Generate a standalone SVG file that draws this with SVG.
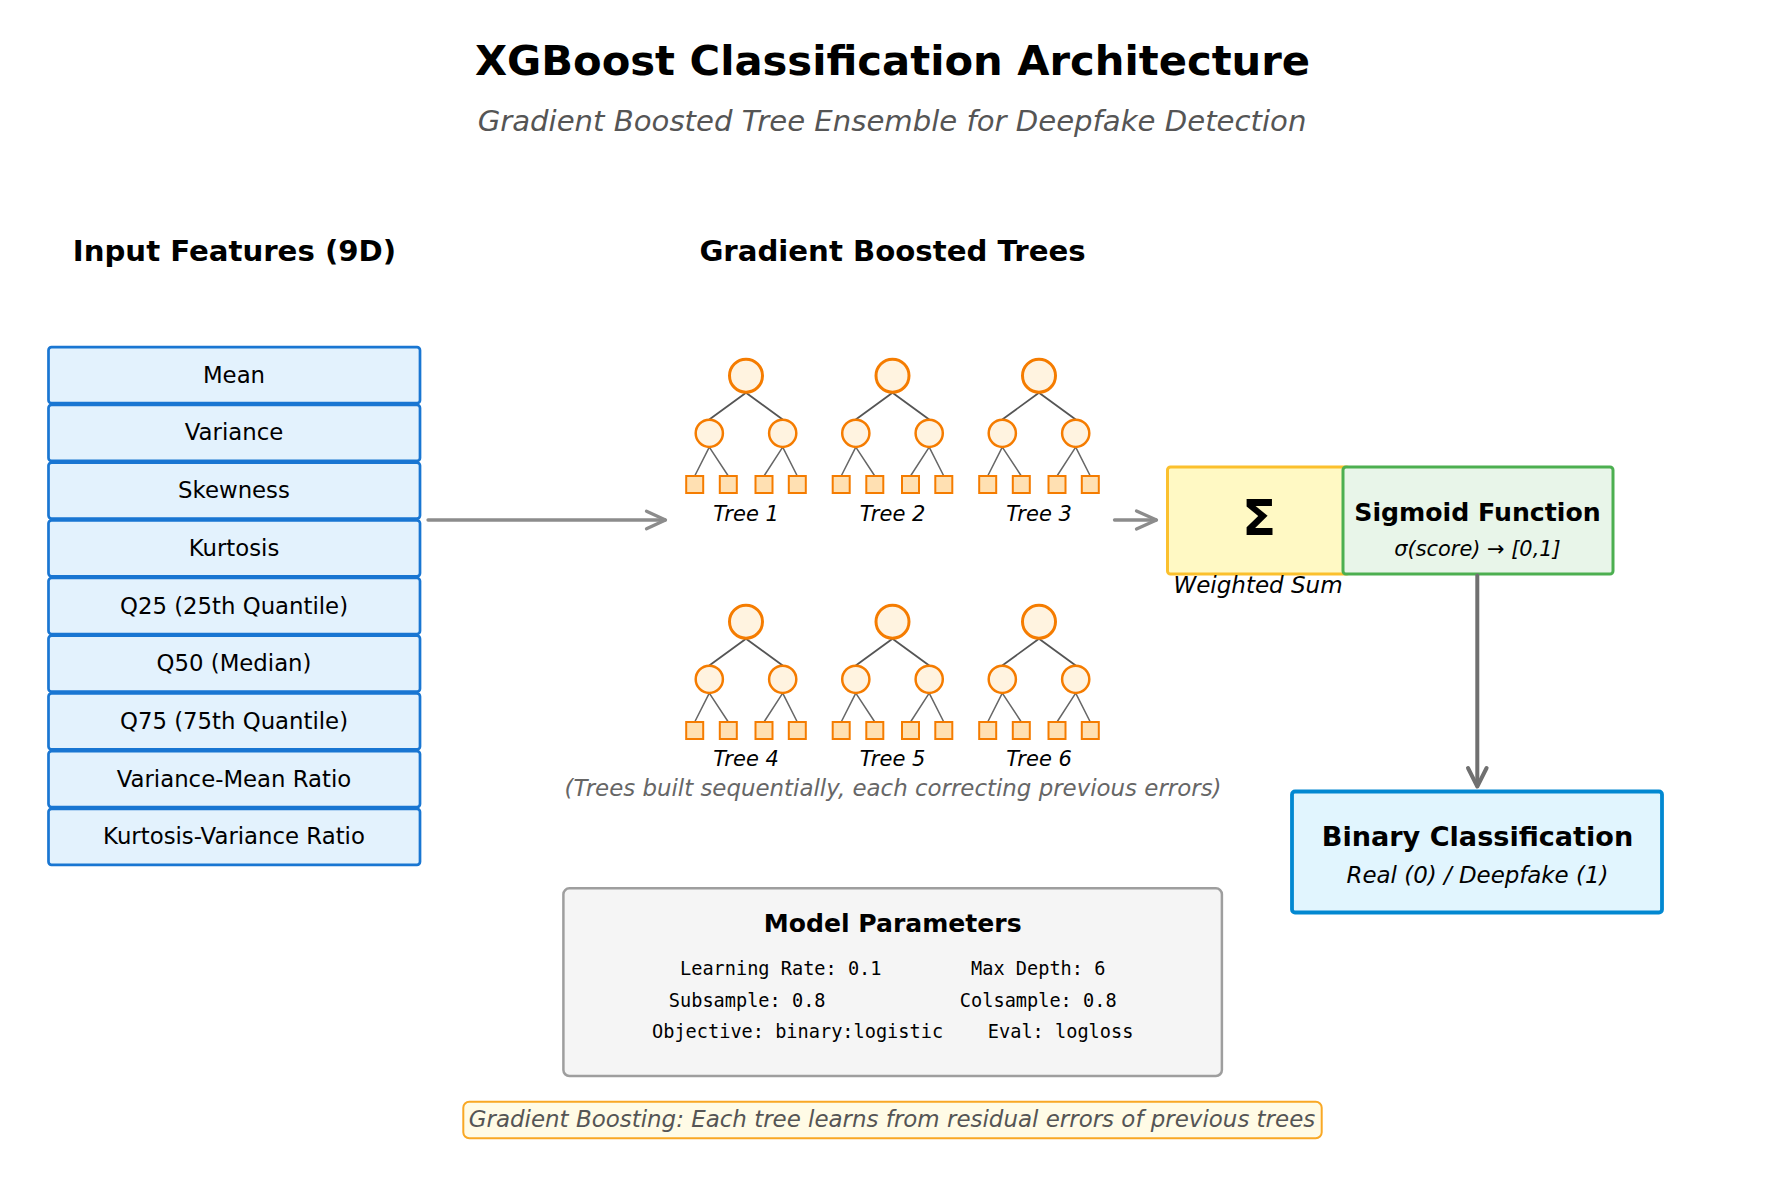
<svg xmlns="http://www.w3.org/2000/svg" xmlns:xlink="http://www.w3.org/1999/xlink" width="1785" height="1185" viewBox="0 0 1785 1185">
<style>
  text { font-family: "DejaVu Sans", "Liberation Sans", sans-serif; }
  .title { font-size: 41.7px; font-weight: bold; fill: #000; text-anchor: middle; }
  .subtitle { font-size: 29.15px; font-style: italic; fill: #555555; text-anchor: middle; }
  .section { font-size: 29.2px; font-weight: bold; fill: #000; text-anchor: middle; }
  .feat rect { fill: #E3F2FD; stroke: #1976D2; stroke-width: 2.7; }
  .feat text { font-size: 22.8px; fill: #000; text-anchor: middle; }
  .treelabel { font-size: 21px; font-style: italic; fill: #000; text-anchor: middle; }
  .note { font-size: 22.9px; font-style: italic; fill: #666666; text-anchor: middle; }
  .edge1 { stroke: #555555; stroke-width: 1.8; fill: none; }
  .edge2 { stroke: #666666; stroke-width: 1.5; fill: none; }
  .root { fill: #FFF3E0; stroke: #F57C00; stroke-width: 3; }
  .child { fill: #FFF3E0; stroke: #F57C00; stroke-width: 2.5; }
  .leaf { fill: #FFE0B2; stroke: #F57C00; stroke-width: 2; }
  .bold { font-weight: bold; fill: #000; text-anchor: middle; }
  .ital { font-style: italic; fill: #000; text-anchor: middle; }
  .mono { font-family: "DejaVu Sans Mono", "Liberation Mono", monospace; font-size: 18.6px; fill: #000; text-anchor: middle; white-space: pre; }
  .conn { fill: none; stroke-linecap: round; stroke-linejoin: round; }
</style>
<defs>
  <g id="tree">
    <path class="edge1" d="M0,17 L-36.7,43.8 M0,17 L36.7,43.8"/>
    <path class="edge2" d="M-36.7,71.4 L-51.3,100.3 M-36.7,71.4 L-17.7,100.3 M36.7,71.4 L18,100.3 M36.7,71.4 L51.3,100.3"/>
    <circle class="root" cx="0" cy="0" r="16.5"/>
    <circle class="child" cx="-36.7" cy="57.6" r="13.6"/>
    <circle class="child" cx="36.7" cy="57.6" r="13.6"/>
    <rect class="leaf" x="-59.8" y="100.3" width="17" height="17"/>
    <rect class="leaf" x="-26.2" y="100.3" width="17" height="17"/>
    <rect class="leaf" x="9.5" y="100.3" width="17" height="17"/>
    <rect class="leaf" x="42.8" y="100.3" width="17" height="17"/>
  </g>
</defs>

<rect x="0" y="0" width="1785" height="1185" fill="#FFFFFF"/>

<text class="title" x="892.5" y="75">XGBoost Classification Architecture</text>
<text class="subtitle" x="892" y="131">Gradient Boosted Tree Ensemble for Deepfake Detection</text>

<text class="section" x="234.5" y="261">Input Features (9D)</text>
<text class="section" x="892.5" y="261">Gradient Boosted Trees</text>

<g id="features">
  <g id="feat-mean" class="feat"><rect x="48.5" y="347.2" width="371.5" height="56" rx="3"/><text x="234" y="382.7">Mean</text></g>
  <g id="feat-variance" class="feat"><rect x="48.5" y="404.9" width="371.5" height="56" rx="3"/><text x="234" y="440.4">Variance</text></g>
  <g id="feat-skewness" class="feat"><rect x="48.5" y="462.6" width="371.5" height="56" rx="3"/><text x="234" y="498.1">Skewness</text></g>
  <g id="feat-kurtosis" class="feat"><rect x="48.5" y="520.3" width="371.5" height="56" rx="3"/><text x="234" y="555.8">Kurtosis</text></g>
  <g id="feat-q25" class="feat"><rect x="48.5" y="578" width="371.5" height="56" rx="3"/><text x="234" y="613.5">Q25 (25th Quantile)</text></g>
  <g id="feat-q50" class="feat"><rect x="48.5" y="635.7" width="371.5" height="56" rx="3"/><text x="234" y="671.2">Q50 (Median)</text></g>
  <g id="feat-q75" class="feat"><rect x="48.5" y="693.4" width="371.5" height="56" rx="3"/><text x="234" y="728.9">Q75 (75th Quantile)</text></g>
  <g id="feat-vmr" class="feat"><rect x="48.5" y="751.1" width="371.5" height="56" rx="3"/><text x="234" y="786.6">Variance-Mean Ratio</text></g>
  <g id="feat-kvr" class="feat"><rect x="48.5" y="808.8" width="371.5" height="56" rx="3"/><text x="234" y="844.3">Kurtosis-Variance Ratio</text></g>
</g>

<g id="tree1"><use xlink:href="#tree" href="#tree" x="746" y="375.7"/><text class="treelabel" x="746" y="521">Tree 1</text></g>
<g id="tree2"><use xlink:href="#tree" href="#tree" x="892.5" y="375.7"/><text class="treelabel" x="892.5" y="521">Tree 2</text></g>
<g id="tree3"><use xlink:href="#tree" href="#tree" x="1039" y="375.7"/><text class="treelabel" x="1039" y="521">Tree 3</text></g>
<g id="tree4"><use xlink:href="#tree" href="#tree" x="746" y="621.7"/><text class="treelabel" x="746" y="766">Tree 4</text></g>
<g id="tree5"><use xlink:href="#tree" href="#tree" x="892.5" y="621.7"/><text class="treelabel" x="892.5" y="766">Tree 5</text></g>
<g id="tree6"><use xlink:href="#tree" href="#tree" x="1039" y="621.7"/><text class="treelabel" x="1039" y="766">Tree 6</text></g>
<text class="note" x="893" y="795.5">(Trees built sequentially, each correcting previous errors)</text>

<g id="weighted-sum">
  <rect x="1167.5" y="467" width="182" height="107" rx="3" fill="#FFF9C4" stroke="#FBC02D" stroke-width="3"/>
  <text class="bold" x="1259" y="535" style="font-size:50px">Σ</text>
  <text class="ital" x="1258" y="592.5" style="font-size:23px">Weighted Sum</text>
</g>

<g id="sigmoid">
  <rect x="1343" y="467" width="270" height="107" rx="3" fill="#E8F5E9" stroke="#4CAF50" stroke-width="3"/>
  <text class="bold" x="1477.5" y="521" style="font-size:25.2px">Sigmoid Function</text>
  <text class="ital" x="1477.5" y="555.5" style="font-size:20.9px">σ(score) → [0,1]</text>
</g>

<g id="binary">
  <rect x="1292" y="791.5" width="370" height="121" rx="3" fill="#E1F5FE" stroke="#0288D1" stroke-width="3.8"/>
  <text class="bold" x="1477.5" y="846" style="font-size:27.1px">Binary Classification</text>
  <text class="ital" x="1477.5" y="882.5" style="font-size:22.9px">Real (0) / Deepfake (1)</text>
</g>

<g id="params">
  <rect x="563.4" y="888.3" width="658.5" height="187.7" rx="6" fill="#F5F5F5" stroke="#9E9E9E" stroke-width="2.5"/>
  <text class="bold" x="892.7" y="932" style="font-size:25.1px">Model Parameters</text>
  <text class="mono" x="892.7" y="975" xml:space="preserve">Learning Rate: 0.1        Max Depth: 6</text>
  <text class="mono" x="892.7" y="1006.7" xml:space="preserve">Subsample: 0.8            Colsample: 0.8</text>
  <text class="mono" x="892.7" y="1038.3" xml:space="preserve">Objective: binary:logistic    Eval: logloss</text>
</g>

<g id="footer-note">
  <rect x="463.3" y="1101.7" width="858.4" height="36.6" rx="6" fill="#FFFBE6" stroke="#F9A825" stroke-width="2"/>
  <text x="892" y="1126.5" style="font-size:22.95px;font-style:italic;fill:#555555;text-anchor:middle">Gradient Boosting: Each tree learns from residual errors of previous trees</text>
</g>

<g id="connectors">
  <path class="conn" d="M428,520 L665,520" stroke="#8C8C8C" stroke-width="3.3"/>
  <path class="conn" d="M646.5,511.2 L665.5,520 L646.5,528.8" stroke="#8C8C8C" stroke-width="3.3"/>
  <path class="conn" d="M1114.5,520 L1156,520" stroke="#8C8C8C" stroke-width="3.3"/>
  <path class="conn" d="M1136.5,511 L1156.5,520 L1136.5,529" stroke="#8C8C8C" stroke-width="3.3"/>
  <path class="conn" d="M1477.3,575.5 L1477.3,785.5" stroke="#707070" stroke-width="4"/>
  <path class="conn" d="M1468,768 L1477.3,786.5 L1486.6,768" stroke="#707070" stroke-width="4"/>
</g>
</svg>
